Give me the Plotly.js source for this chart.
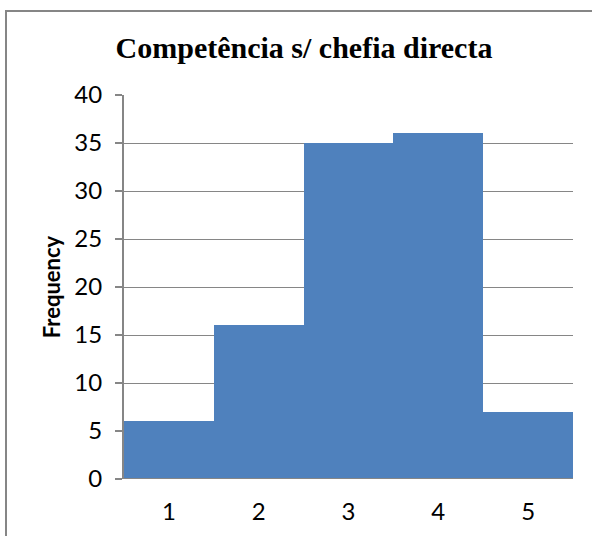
<!DOCTYPE html>
<html>
<head>
<meta charset="utf-8">
<script src="https://cdn.plot.ly/plotly-3.0.1.min.js"></script>
<style>
html,body{margin:0;padding:0;background:#fff;overflow:hidden;}
#chart{width:592px;height:536px;position:relative;}
#frame{position:absolute;left:5px;top:10px;width:700px;height:700px;border:2px solid #868686;box-sizing:border-box;pointer-events:none;}
</style>
</head>
<body>
<div id="chart"></div>
<div id="frame"></div>
<script>
const categories = [1, 2, 3, 4, 5];
const frequency = [6, 16, 35, 36, 7];
const yTicks = [0, 5, 10, 15, 20, 25, 30, 35, 40];

const tickFont = {family: 'Lato, Open Sans, sans-serif', size: 24, color: '#000'};

const trace = {
  type: 'bar',
  x: categories,
  y: frequency,
  width: 1,
  marker: {color: '#4F81BD', line: {width: 0}},
  hoverinfo: 'x+y'
};

const layout = {
  width: 592, height: 536,
  margin: {l: 124, r: 19, t: 95, b: 57},
  paper_bgcolor: 'rgba(0,0,0,0)',
  plot_bgcolor: '#ffffff',
  showlegend: false,
  bargap: 0,
  title: {
    text: '<b>Competência s/ chefia directa</b>',
    font: {family: 'Liberation Serif, Times New Roman, serif', size: 30, color: '#000'},
    x: 304/592, xanchor: 'center', xref: 'container',
    y: 1 - 47/536, yanchor: 'middle'
  },
  xaxis: {
    range: [0.5, 5.5],
    tickvals: categories,
    ticktext: categories.map(String),
    ticks: '',
    showgrid: false,
    zeroline: false,
    showline: false,
    tickfont: tickFont,
    ticklabelstandoff: 16,
    fixedrange: true
  },
  yaxis: {
    range: [0, 40],
    tickvals: yTicks,
    ticktext: yTicks.map(String),
    ticks: 'outside', ticklen: 7, tickcolor: '#868686', tickwidth: 2,
    showgrid: true, gridcolor: '#868686', gridwidth: 1,
    zeroline: false,
    showline: true, linecolor: '#868686', linewidth: 2,
    tickfont: tickFont,
    ticklabelstandoff: 8,
    title: {
      text: '<b>Frequency</b>',
      font: {family: 'Lato, Open Sans, sans-serif', size: 22, color: '#000'},
      standoff: 8
    },
    fixedrange: true
  },
  shapes: [{
    type: 'line', xref: 'paper', yref: 'y',
    x0: 0, x1: 1, y0: 0, y1: 0,
    line: {color: '#868686', width: 2}, layer: 'above'
  }]
};

Plotly.newPlot('chart', [trace], layout, {displayModeBar: false, staticPlot: true});
</script>
</body>
</html>
